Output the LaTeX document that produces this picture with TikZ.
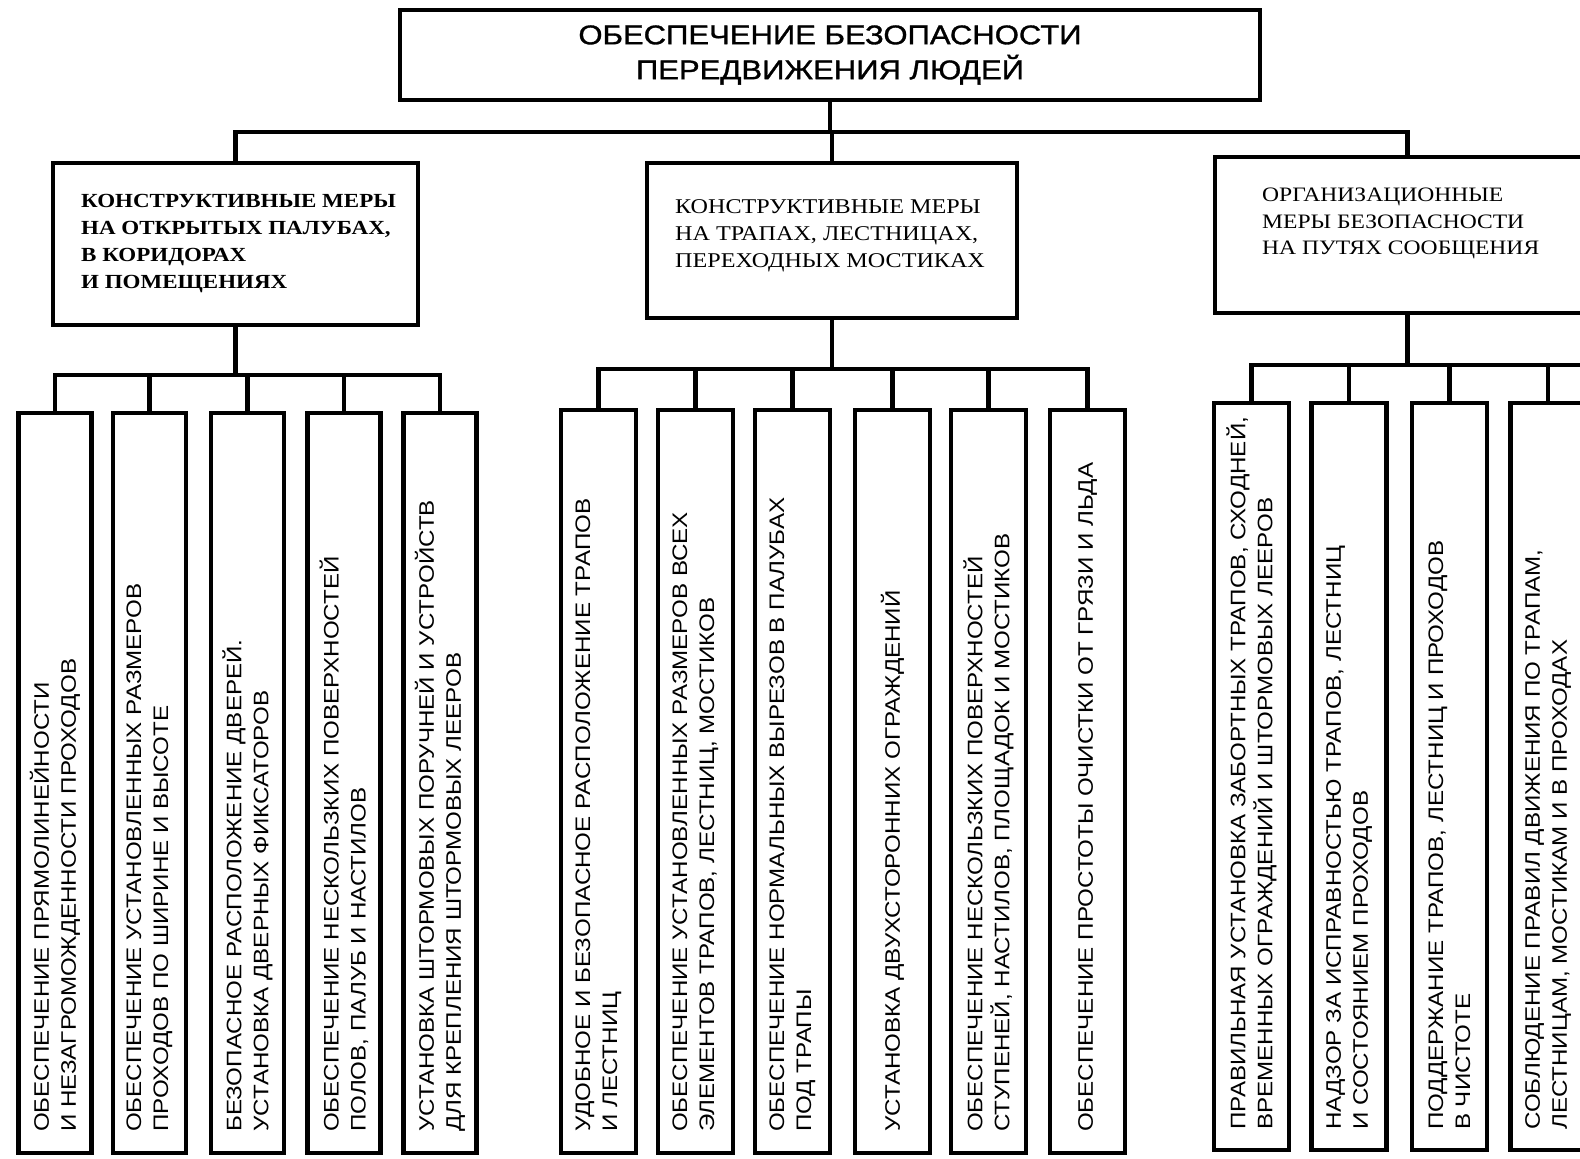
\documentclass[tikz,border=0pt]{standalone}
\usepackage{fontspec}
\newfontfamily\leaffont[FakeStretch=1.15]{Liberation Sans}
\newfontfamily\titlefont[FakeStretch=1.15,FakeBold=1.2]{Liberation Sans}
\newfontfamily\boxfont[FakeStretch=1.15]{Liberation Serif}
\begin{document}
\begin{tikzpicture}[x=1pt,y=-1pt,
  conn/.style={line width=4.5pt},
  box/.style={draw, line width=4.5pt, inner sep=0pt},
  leafA/.style={box, minimum width=73pt, minimum height=740pt},
  leafB/.style={box, minimum width=75pt, minimum height=743pt},
  leafC/.style={box, minimum width=75pt, minimum height=747pt},
  leaftext/.style={rotate=90, anchor=west, align=left, inner sep=0pt,
    font=\leaffont\fontsize{21}{27}\selectfont},
  gtext/.style={anchor=north west, align=left, inner sep=0pt,
    font=\boxfont\fontsize{21}{27}\selectfont}]
\useasboundingbox (0,0) rectangle (1580,1159);
\clip (0,0) rectangle (1580,1159);

% top
\node[box, minimum width=860pt, minimum height=90pt, align=center,
  font=\titlefont\fontsize{27}{35}\selectfont] (top) at (830,55)
  {ОБЕСПЕЧЕНИЕ БЕЗОПАСНОСТИ\\ПЕРЕДВИЖЕНИЯ ЛЮДЕЙ};

% second level
\node[box, minimum width=365pt, minimum height=162pt] (g1) at (235.5,244) {};
\node[gtext, font=\boxfont\bfseries\fontsize{20}{27}\selectfont] (g1t) at (81,194)
  {КОНСТРУКТИВНЫЕ МЕРЫ\\НА ОТКРЫТЫХ ПАЛУБАХ,\\В КОРИДОРАХ\\И ПОМЕЩЕНИЯХ};
\node[box, minimum width=370pt, minimum height=155pt] (g2) at (832,240.5) {};
\node[gtext] (g2t) at (675,199)
  {КОНСТРУКТИВНЫЕ МЕРЫ\\НА ТРАПАХ, ЛЕСТНИЦАХ,\\ПЕРЕХОДНЫХ МОСТИКАХ};
\node[box, minimum width=385pt, minimum height=156pt] (g3) at (1407.5,235) {};
\node[gtext, font=\boxfont\fontsize{20.5}{26.5}\selectfont] (g3t) at (1262,188)
  {ОРГАНИЗАЦИОННЫЕ\\МЕРЫ БЕЗОПАСНОСТИ\\НА ПУТЯХ СООБЩЕНИЯ};

% connectors level 1
\coordinate (bus0) at (0,132);
\draw[conn] (top.south) -- (top.south |- bus0);
\draw[conn] (g1.north) |- (bus0 -| g3.north) -- (g3.north);
\draw[conn] (g2.north) -- (g2.north |- bus0);

% group 1 leaves
\node[leafA] (a1) at (55,783) {};
\node[leafA] (a2) at (149.5,783) {};
\node[leafA] (a3) at (247.5,783) {};
\node[leafA] (a4) at (344,783) {};
\node[leafA] (a5) at (440,783) {};
\node[leaftext] (a1t) at (55,1132) {ОБЕСПЕЧЕНИЕ ПРЯМОЛИНЕЙНОСТИ\\И НЕЗАГРОМОЖДЕННОСТИ ПРОХОДОВ};
\node[leaftext] (a2t) at (149.5,1132) {ОБЕСПЕЧЕНИЕ УСТАНОВЛЕННЫХ РАЗМЕРОВ\\ПРОХОДОВ ПО ШИРИНЕ И ВЫСОТЕ};
\node[leaftext] (a3t) at (247.5,1132) {БЕЗОПАСНОЕ РАСПОЛОЖЕНИЕ ДВЕРЕЙ.\\УСТАНОВКА ДВЕРНЫХ ФИКСАТОРОВ};
\node[leaftext] (a4t) at (344,1132) {ОБЕСПЕЧЕНИЕ НЕСКОЛЬЗКИХ ПОВЕРХНОСТЕЙ\\ПОЛОВ, ПАЛУБ И НАСТИЛОВ};
\node[leaftext] (a5t) at (440,1132) {УСТАНОВКА ШТОРМОВЫХ ПОРУЧНЕЙ И УСТРОЙСТВ\\ДЛЯ КРЕПЛЕНИЯ ШТОРМОВЫХ ЛЕЕРОВ};

\coordinate (bus1) at (0,375);
\draw[conn] (g1.south) -- (g1.south |- bus1);
\draw[conn] (a1.north) |- (bus1 -| a5.north) -- (a5.north);
\foreach \n in {a2,a3,a4} \draw[conn] (\n.north) -- (\n.north |- bus1);

% group 2 leaves
\node[leafB] (b1) at (598.5,781.5) {};
\node[leafB] (b2) at (695.5,781.5) {};
\node[leafB] (b3) at (792.5,781.5) {};
\node[leafB] (b4) at (892.5,781.5) {};
\node[leafB] (b5) at (988.5,781.5) {};
\node[leafB] (b6) at (1087.5,781.5) {};
\node[leaftext] (b1t) at (598.5,1132) {УДОБНОЕ И БЕЗОПАСНОЕ РАСПОЛОЖЕНИЕ ТРАПОВ\\И ЛЕСТНИЦ};
\node[leaftext] (b2t) at (695.5,1132) {ОБЕСПЕЧЕНИЕ УСТАНОВЛЕННЫХ РАЗМЕРОВ ВСЕХ\\ЭЛЕМЕНТОВ ТРАПОВ, ЛЕСТНИЦ, МОСТИКОВ};
\node[leaftext] (b3t) at (792.5,1132) {ОБЕСПЕЧЕНИЕ НОРМАЛЬНЫХ ВЫРЕЗОВ В ПАЛУБАХ\\ПОД ТРАПЫ};
\node[leaftext] (b4t) at (892.5,1132) {УСТАНОВКА ДВУХСТОРОННИХ ОГРАЖДЕНИЙ};
\node[leaftext] (b5t) at (988.5,1132) {ОБЕСПЕЧЕНИЕ НЕСКОЛЬЗКИХ ПОВЕРХНОСТЕЙ\\СТУПЕНЕЙ, НАСТИЛОВ, ПЛОЩАДОК И МОСТИКОВ};
\node[leaftext] (b6t) at (1087.5,1132) {ОБЕСПЕЧЕНИЕ ПРОСТОТЫ ОЧИСТКИ ОТ ГРЯЗИ И ЛЬДА};

\coordinate (bus2) at (0,369);
\draw[conn] (g2.south) -- (g2.south |- bus2);
\draw[conn] (b1.north) |- (bus2 -| b6.north) -- (b6.north);
\foreach \n in {b2,b3,b4,b5} \draw[conn] (\n.north) -- (\n.north |- bus2);

% group 3 leaves
\node[leafC] (c1) at (1251.5,776.5) {};
\node[leafC] (c2) at (1349,776.5) {};
\node[leafC] (c3) at (1449.5,776.5) {};
\node[leafC] (c4) at (1548,776.5) {};
\node[leaftext] (c1t) at (1251.5,1130) {ПРАВИЛЬНАЯ УСТАНОВКА ЗАБОРТНЫХ ТРАПОВ, СХОДНЕЙ,\\ВРЕМЕННЫХ ОГРАЖДЕНИЙ И ШТОРМОВЫХ ЛЕЕРОВ};
\node[leaftext] (c2t) at (1349,1130) {НАДЗОР ЗА ИСПРАВНОСТЬЮ ТРАПОВ, ЛЕСТНИЦ\\И СОСТОЯНИЕМ ПРОХОДОВ};
\node[leaftext] (c3t) at (1449.5,1130) {ПОДДЕРЖАНИЕ ТРАПОВ, ЛЕСТНИЦ И ПРОХОДОВ\\В ЧИСТОТЕ};
\node[leaftext] (c4t) at (1548,1130) {СОБЛЮДЕНИЕ ПРАВИЛ ДВИЖЕНИЯ ПО ТРАПАМ,\\ЛЕСТНИЦАМ, МОСТИКАМ И В ПРОХОДАХ};

\coordinate (bus3) at (0,365);
\coordinate (c3end) at (1590,365);
\draw[conn] (g3.south) -- (g3.south |- bus3);
\draw[conn] (c1.north) |- (c3end);
\foreach \n in {c2,c3,c4} \draw[conn] (\n.north) -- (\n.north |- bus3);
\end{tikzpicture}
\end{document}
